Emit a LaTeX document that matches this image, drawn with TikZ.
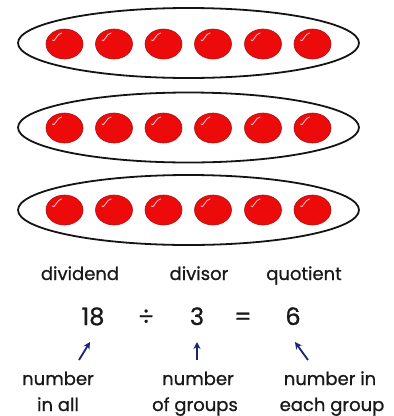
\documentclass[tikz,border=0pt]{standalone}
\usepackage{fontspec}
\setmainfont{Poppins}
\newfontfamily\labelfont{Poppins}[FakeBold=0.9]
\usepackage{xcolor}
\usetikzlibrary{arrows.meta}
\definecolor{ringline}{RGB}{20,20,20}
\definecolor{ballred}{RGB}{236,10,10}
\definecolor{ballrim}{RGB}{170,20,20}
\definecolor{textgray}{RGB}{25,25,25}
\definecolor{arrownavy}{RGB}{25,35,120}
\tikzset{
  wordlabel/.style={font=\labelfont\fontsize{18}{20}\selectfont, text=textgray, inner sep=0pt, anchor=base},
  eqpart/.style={font=\labelfont\fontsize{24}{26}\selectfont, text=textgray, inner sep=0pt, anchor=base},
  uparrow/.style={arrownavy, line width=1.8pt, -{Stealth[length=7pt,width=7pt]}}
}
\begin{document}
\begin{tikzpicture}[x=1pt, y=-1pt]
\useasboundingbox (0,0) rectangle (394,416);

% 1. GROUP RINGS
\draw[ringline, fill=white, line width=1.8pt] (188.5, 43) ellipse (170.5pt and 35pt);
\draw[ringline, fill=white, line width=1.8pt] (188.5, 127.5) ellipse (170.5pt and 35pt);
\draw[ringline, fill=white, line width=1.8pt] (188.5, 210) ellipse (170.5pt and 35pt);

% 2. RED COUNTERS (6 in each ring)
\foreach \y in {44, 128, 210} {
  \foreach \x in {64.5, 114, 163.5, 213, 263, 312.5} {
    \fill[ballred, draw=ballrim, line width=0.6pt] (\x, \y) ellipse (18.5pt and 15pt);
    \draw[white, opacity=0.75, line width=0.9pt, line cap=round] (\x-12, \y-4) to[out=-70, in=180] (\x-3, \y-11);
  }
}

% 3. NAMES OF THE PARTS
\node[wordlabel] (dividend) at (80, 280) {dividend};
\node[wordlabel] (divisor) at (199, 280) {divisor};
\node[wordlabel] (quotient) at (304, 280) {quotient};

% 4. THE SENTENCE
\node[eqpart] (total) at (93, 325) {18};
\node[eqpart] (divsign) at (146, 325) {÷};
\node[eqpart] (groups) at (197, 325) {3};
\node[eqpart] (eqsign) at (243, 325) {=};
\node[eqpart] (each) at (293, 325) {6};

% 5. POINTERS
\coordinate (totaltail) at (79, 360);
\coordinate (totalhead) at (90, 342);
\coordinate (groupstail) at (197, 360);
\coordinate (groupshead) at (197, 342);
\coordinate (eachtail) at (308, 360);
\coordinate (eachhead) at (295, 342);
\draw[uparrow] (totaltail) -- (totalhead);
\draw[uparrow] (groupstail) -- (groupshead);
\draw[uparrow] (eachtail) -- (eachhead);

% 6. WHAT EACH NUMBER MEANS
\node[wordlabel] (allnum) at (58, 385) {number};
\node[wordlabel] (allword) at (58, 411) {in all};
\node[wordlabel] (groupsnum) at (198, 385) {number};
\node[wordlabel] (groupsword) at (195, 411) {of groups};
\node[wordlabel] (eachnum) at (330, 385) {number in};
\node[wordlabel] (eachword) at (332, 411) {each group};

\end{tikzpicture}
\end{document}
